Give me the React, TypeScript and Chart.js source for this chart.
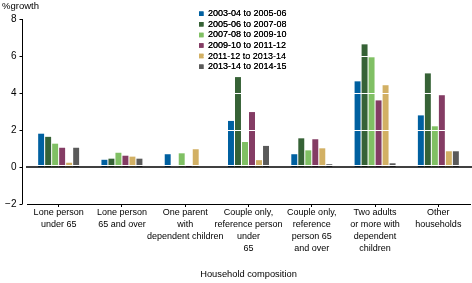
import { useEffect, useRef } from 'react';
import { Chart, registerables } from 'chart.js';

Chart.register(...registerables);

const categories: string[][] = [
  ['Lone person', 'under 65'],
  ['Lone person', '65 and over'],
  ['One parent', 'with', 'dependent children'],
  ['Couple only,', 'reference person', 'under', '65'],
  ['Couple only,', 'reference', 'person 65', 'and over'],
  ['Two adults', 'or more with', 'dependent', 'children'],
  ['Other', 'households'],
];

const seriesLabels = [
  '2003-04 to 2005-06',
  '2005-06 to 2007-08',
  '2007-08 to 2009-10',
  '2009-10 to 2011-12',
  '2011-12 to 2013-14',
  '2013-14 to 2014-15',
];

const growth0304to0506 = [1.8, 0.39, 0.69, 2.49, 0.69, 4.63, 2.79];
const growth0506to0708 = [1.63, 0.45, null, 4.86, 1.55, 6.63, 5.06];
const growth0708to0910 = [1.26, 0.77, 0.74, 1.35, 0.9, 5.93, 2.2];
const growth0910to1112 = [1.04, 0.61, 0.1, 2.97, 1.5, 3.6, 3.88];
const growth1112to1314 = [0.23, 0.56, 0.96, 0.37, 1.01, 4.42, 0.85];
const growth1314to1415 = [1.04, 0.45, null, 1.14, 0.15, 0.2, 0.85];

const seriesValues = [
  growth0304to0506,
  growth0506to0708,
  growth0708to0910,
  growth0910to1112,
  growth1112to1314,
  growth1314to1415,
];

const seriesColors = ['#0060a0', '#366236', '#80c064', '#843c64', '#d2b064', '#5a5a5a'];

const yTickValues = [-2, 0, 2, 4, 6, 8];
const whiteGridValues = [2, 4, 6];

const FONT = "Arial, 'Liberation Sans', sans-serif";

const decorPlugin = {
  id: 'decor',
  beforeDraw(chart: any) {
    const lg = chart.legend;
    if (lg) {
      lg.left = 197.4;
      lg.top = 7.6;
    }
  },
  afterDatasetsDraw(chart: any) {
    const { ctx, chartArea } = chart;
    const y = chart.scales.y;
    ctx.save();
    // white gridlines over bars
    ctx.strokeStyle = '#ffffff';
    ctx.lineWidth = 1;
    for (const v of whiteGridValues) {
      const py = Math.round(y.getPixelForValue(v)) + 0.5;
      ctx.beginPath();
      ctx.moveTo(chartArea.left, py);
      ctx.lineTo(chartArea.right, py);
      ctx.stroke();
    }
    const y0 = y.getPixelForValue(0);
    // white gap above zero line
    ctx.beginPath();
    ctx.moveTo(chartArea.left, y0 - 1.5);
    ctx.lineTo(chartArea.right, y0 - 1.5);
    ctx.stroke();
    // zero line
    ctx.strokeStyle = '#000000';
    ctx.lineWidth = 1.5;
    ctx.beginPath();
    ctx.moveTo(chartArea.left - 1, y0);
    ctx.lineTo(chart.width, y0);
    ctx.stroke();
    // y axis line and ticks
    const ax = chartArea.left - 4.5;
    ctx.lineWidth = 1;
    ctx.beginPath();
    ctx.moveTo(ax, y.getPixelForValue(yTickValues[yTickValues.length - 1]));
    ctx.lineTo(ax, y.getPixelForValue(yTickValues[0]));
    for (const v of yTickValues) {
      const py = Math.round(y.getPixelForValue(v)) + 0.5;
      ctx.moveTo(ax - 3, py);
      ctx.lineTo(ax, py);
    }
    ctx.stroke();
    ctx.restore();
    // redraw legend on top of the white gridlines
    if (chart.legend && chart.legend.options && chart.legend.options.display) {
      chart.legend.draw();
    }
  },
};

export default function App() {
  const ref = useRef<HTMLCanvasElement | null>(null);

  useEffect(() => {
    document.body.style.margin = '0';
    const canvas = ref.current;
    if (!canvas) return;
    const chart = new Chart(canvas, {
      type: 'bar',
      data: {
        labels: categories,
        datasets: seriesValues.map((vals, i) => ({
          label: seriesLabels[i],
          data: vals,
          backgroundColor: seriesColors[i],
          borderWidth: 0,
          categoryPercentage: 0.664,
          barPercentage: 0.85,
        })),
      },
      options: {
        responsive: false,
        animation: false,
        devicePixelRatio: 1,
        color: '#000',
        font: { family: FONT },
        layout: { padding: { left: 2, right: 2, top: 0, bottom: 0 } },
        plugins: {
          tooltip: { enabled: false },
          title: {
            display: true,
            text: '%growth',
            align: 'start',
            color: '#000',
            font: { family: FONT, size: 9.5, weight: 'normal' },
            padding: { top: 1.1, bottom: 6.5 },
          },
          legend: {
            display: true,
            position: 'chartArea',
            align: 'start',
            labels: {
              boxWidth: 4.5,
              boxHeight: 4.5,
              padding: 1.6,
              color: '#000',
              font: { family: FONT, size: 9 },
            },
          },
        },
        scales: {
          x: {
            offset: true,
            afterFit: (s: any) => {
              s.height = 79;
            },
            grid: {
              display: true,
              drawOnChartArea: false,
              drawTicks: true,
              tickLength: 3,
              color: '#000',
              offset: false,
            },
            border: { display: true, color: '#000', width: 1 },
            ticks: {
              autoSkip: false,
              maxRotation: 0,
              minRotation: 0,
              padding: 0,
              color: '#000',
              font: { family: FONT, size: 9, lineHeight: 1.333 },
            },
            title: {
              display: true,
              text: 'Household composition',
              color: '#000',
              font: { family: FONT, size: 9.3, lineHeight: 1.2 },
              padding: { top: 0, bottom: 3 },
            },
          },
          y: {
            min: -2,
            max: 8,
            afterFit: (s: any) => {
              s.width = 25;
            },
            grid: { display: false, drawTicks: false },
            border: { display: false },
            ticks: {
              stepSize: 2,
              padding: 10.5,
              color: '#000',
              font: { family: FONT, size: 10 },
              callback: (v: any) => (Number(v) < 0 ? '\u2212' + Math.abs(Number(v)) : String(v)),
            },
          },
        },
      },
      plugins: [decorPlugin],
    } as any);
    return () => chart.destroy();
  }, []);

  return (
    <div style={{ width: 472, height: 283, position: 'relative' }}>
      <canvas ref={ref} width={472} height={283} />
    </div>
  );
}
